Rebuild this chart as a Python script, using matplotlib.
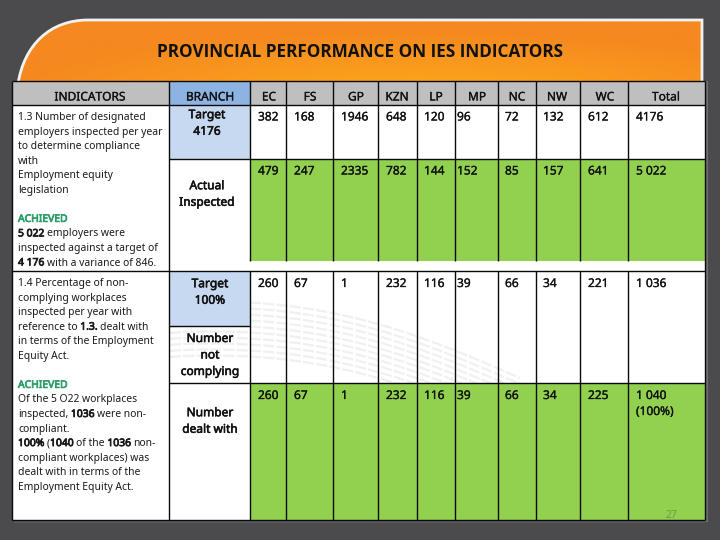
import numpy as np
import matplotlib
matplotlib.use("Agg")
import matplotlib.pyplot as plt
import matplotlib.patheffects as pe
from matplotlib.patches import Rectangle, PathPatch
from matplotlib.path import Path

TITLE = "PROVINCIAL PERFORMANCE ON IES INDICATORS"
headers = ["INDICATORS", "BRANCH", "EC", "FS", "GP", "KZN", "LP", "MP", "NC", "NW", "WC", "Total"]
target_1 = ["382", "168", "1946", "648", "120", "96", "72", "132", "612", "4176"]
actual_1 = ["479", "247", "2335", "782", "144", "152", "85", "157", "641", "5 022"]
target_2 = ["260", "67", "1", "232", "116", "39", "66", "34", "221", "1 036"]
dealt_2 = ["260", "67", "1", "232", "116", "39", "66", "34", "225", "1 040\n(100%)"]
branch_labels = ["Target\n4176", "Actual\nInspected", "Target\n100%", "Number\nnot\ncomplying", "Number\ndealt with"]

# each line: list of (text, style); n normal, b bold, g green heading
ind_1 = [[("1.3 Number of designated", "n")], [("employers inspected per year", "n")],
         [("to determine compliance", "n")], [("with", "n")], [("Employment equity", "n")],
         [("legislation", "n")], [], [("ACHIEVED", "g")],
         [("5 022", "b"), (" employers were", "n")], [("inspected against a target of", "n")],
         [("4 176", "b"), (" with a variance of 846.", "n")]]
ind_2 = [[("1.4 Percentage of non-", "n")], [("complying workplaces", "n")],
         [("inspected per year with", "n")], [("reference to ", "n"), ("1.3.", "b"), (" dealt with", "n")],
         [("in terms of the Employment", "n")], [("Equity Act.", "n")], [], [("ACHIEVED", "g")],
         [("Of the 5 O22 workplaces", "n")], [("inspected, ", "n"), ("1036", "b"), (" were non-", "n")],
         [("compliant.", "n")], [("100%", "b"), (" (", "n"), ("1040", "b"), (" of the ", "n"), ("1036", "b"), (" non-", "n")],
         [("compliant workplaces) was", "n")], [("dealt with in terms of the", "n")],
         [("Employment Equity Act.", "n")]]

# layout (pixels)
col_x = [12, 169, 250, 286, 333, 378, 417, 455, 498, 536, 580, 628, 705]
hdr_cx = [90, 210, 269, 310, 356, 397, 436, 477, 517, 557, 605, 666]
val_x = [258, 294, 341, 386, 424, 457, 505, 543, 588, 636]
BG, GREEN, BLUE, GREY = "#4B4B4D", "#92D050", "#C6D9F1", "#BFBFBF"
FONT = "Noto Sans"
BOLD = [pe.withStroke(linewidth=0.4, foreground="#111111")]
MEDIUM = [pe.withStroke(linewidth=0.2, foreground="#111111")]

fig = plt.figure(figsize=(7.2, 5.4), dpi=100, facecolor=BG)
ax = fig.add_axes([0, 0, 1, 1])
ax.set_xlim(0, 720)
ax.set_ylim(540, 0)
ax.axis("off")

# banner with gradient
yy, xx = np.mgrid[0:62, 0:686]
d = np.sqrt(((xx - 400) / 420.0) ** 2 + ((yy - 75) / 65.0) ** 2)
d = np.clip(d, 0, 1)[..., None]
grad = (1 - d) * np.array([253, 172, 26]) / 255 + d * np.array([245, 136, 32]) / 255
verts = [(18, 84), (24, 45), (50, 20), (88, 20), (702, 20), (702, 84), (18, 84)]
codes = [Path.MOVETO, Path.CURVE4, Path.CURVE4, Path.CURVE4, Path.LINETO, Path.LINETO, Path.CLOSEPOLY]
shape = PathPatch(Path(verts, codes), facecolor="none", edgecolor="#F2F2F2", lw=2, zorder=2)
ax.add_patch(shape)
im = ax.imshow(grad, extent=(18, 702, 84, 20), aspect="auto", zorder=1)
im.set_clip_path(shape)
ax.set_xlim(0, 720)
ax.set_ylim(540, 0)
ax.text(360, 52, TITLE, ha="center", va="center", fontsize=12.3, fontweight="bold",
        family="Open Sans", color="#111111", zorder=5)

# table shadow and white base
ax.add_patch(Rectangle((705, 81), 3, 441, fc="#6E6E70", ec="none", zorder=2))
ax.add_patch(Rectangle((14, 520), 691, 3, fc="#5A5A5C", ec="none", zorder=2))
ax.add_patch(Rectangle((12, 81), 693, 439, fc="white", ec="none", zorder=3))

# fills
ax.add_patch(Rectangle((12, 81), 693, 24, fc=GREY, ec="none", zorder=3))
ax.add_patch(Rectangle((169, 81), 81, 24, fc="#8DB3E2", ec="none", zorder=3))
ax.add_patch(Rectangle((169, 105), 81, 54, fc=BLUE, ec="none", zorder=3))
ax.add_patch(Rectangle((250, 159), 455, 102, fc=GREEN, ec="none", zorder=3))
ax.add_patch(Rectangle((250, 383), 455, 137, fc=GREEN, ec="none", zorder=3))

# faint watermark in the white cells
for off in np.arange(0, 60, 6):
    xs = np.linspace(170, 520, 90)
    ys = 303 + off + 75 * ((xs - 170) / 350) ** 1.2 - 20 * np.sin((xs - 170) / 350 * np.pi)
    ax.plot(xs, ys, color="#F0F0F0", lw=1.6, ls=(0, (5, 1)), zorder=3.5)
ax.add_patch(Rectangle((169, 271), 81, 55, fc=BLUE, ec="none", zorder=3.6))
ax.add_patch(Rectangle((250, 383), 455, 137, fc=GREEN, ec="none", zorder=3.6))
ax.add_patch(Rectangle((169, 383), 81, 137, fc="white", ec="none", zorder=3.6))

# grid lines
LW = 1.0
def hl(y, x0=12, x1=705):
    ax.plot([x0, x1], [y, y], color="#0A0A0A", lw=LW, zorder=4, solid_capstyle="butt")
def vl(x, y0, y1):
    ax.plot([x, x], [y0, y1], color="#0A0A0A", lw=LW, zorder=4, solid_capstyle="butt")

hl(81); hl(105); hl(159, 169, 705); hl(271); hl(326, 169, 250); hl(383, 169, 705); hl(520)
vl(12, 81, 520); vl(169, 81, 520); vl(705, 81, 520)
for x in col_x[2:-1]:
    vl(x, 81, 261)
    vl(x, 271, 520)

# header
for cx, h in zip(hdr_cx, headers):
    ax.text(cx, 97, h, ha="center", va="center", fontsize=8.6, family=FONT, color="#111111",
            path_effects=MEDIUM, zorder=6)

# values
def fill_row(vals, y):
    for x, v in zip(val_x, vals):
        ax.text(x, y, v, ha="left", va="top", fontsize=8.6, family=FONT, color="#111111",
                linespacing=1.3, path_effects=MEDIUM, zorder=6)
fill_row(target_1, 110.5)
fill_row(actual_1, 164.5)
fill_row(target_2, 277)
fill_row(dealt_2, 389)

# branch labels
for lab, (cx, cy) in zip(branch_labels, [(207, 123), (207, 194), (210, 292), (210, 355), (210, 421)]):
    ax.text(cx, cy, lab, ha="center", va="center", fontsize=8.6, family=FONT,
            color="#111111", linespacing=1.35, path_effects=BOLD, zorder=6)

# indicator text
renderer = fig.canvas.get_renderer()
def advance(txt, **kw):
    a = ax.text(0, 0, "x" + txt + "x", **kw)
    b = ax.text(0, 0, "xx", **kw)
    w = a.get_window_extent(renderer).width - b.get_window_extent(renderer).width
    a.remove()
    b.remove()
    return w

def rich(lines, y0, step=14.55):
    y = y0
    for line in lines:
        x = 18
        for txt, st in line:
            kw = dict(fontsize=7.45, family=FONT)
            w = advance(txt, **kw)
            lead = len(txt) - len(txt.lstrip())
            offs = advance(txt[:lead], **kw) if lead else 0
            col = "#2E9E6B" if st == "g" else "#1A1A1A"
            fx = [pe.withStroke(linewidth=0.55, foreground=col)] if st in "bg" else []
            ax.text(x + offs, y, txt.strip(), ha="left", va="center_baseline",
                    color=col, path_effects=fx, zorder=6, **kw)
            x += w
        y += step
rich(ind_1, 116)
rich(ind_2, 282)

ax.text(671, 515, "27", ha="center", va="center", fontsize=7.5, family=FONT, color="#6E9A45", zorder=6)

fig.savefig("out.png", dpi=100, facecolor=BG)
